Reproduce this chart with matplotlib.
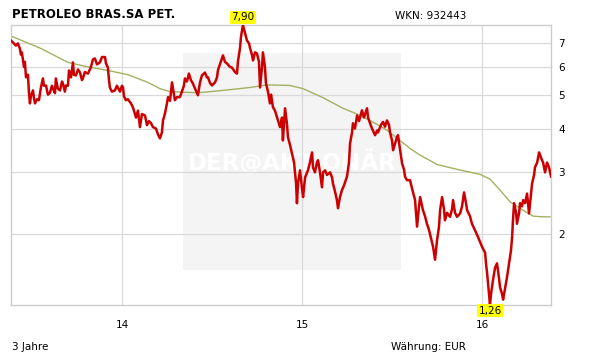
import matplotlib
matplotlib.use("Agg")
import matplotlib.pyplot as plt
from matplotlib.patches import Rectangle
from matplotlib.ticker import FixedLocator, NullLocator
import numpy as np

# time in decimal years (14 = 1 Jan 2014), price in EUR
price_t = [
    13.381, 13.394, 13.411, 13.422, 13.433, 13.439, 13.444, 13.456, 13.461, 13.467,
    13.478, 13.483, 13.489, 13.494, 13.506, 13.511, 13.517, 13.528, 13.539, 13.550,
    13.561, 13.567, 13.578, 13.589, 13.600, 13.611, 13.617, 13.628, 13.633, 13.644,
    13.656, 13.667, 13.672, 13.683, 13.689, 13.700, 13.706, 13.717, 13.728, 13.733,
    13.744, 13.756, 13.767, 13.778, 13.783, 13.794, 13.811, 13.822, 13.828, 13.839,
    13.850, 13.861, 13.878, 13.889, 13.906, 13.911, 13.922, 13.928, 13.933, 13.944,
    13.961, 13.972, 13.989, 14.000, 14.006, 14.011, 14.022, 14.033, 14.050, 14.061,
    14.078, 14.089, 14.100, 14.111, 14.128, 14.139, 14.150, 14.161, 14.172, 14.189,
    14.200, 14.211, 14.222, 14.228, 14.239, 14.250, 14.256, 14.267, 14.278, 14.289,
    14.294, 14.306, 14.322, 14.333, 14.344, 14.350, 14.361, 14.372, 14.383, 14.394,
    14.406, 14.417, 14.422, 14.433, 14.444, 14.461, 14.472, 14.478, 14.489, 14.500,
    14.517, 14.528, 14.533, 14.544, 14.561, 14.572, 14.583, 14.600, 14.611, 14.628,
    14.639, 14.644, 14.656, 14.661, 14.672, 14.683, 14.694, 14.706, 14.711, 14.722,
    14.728, 14.739, 14.750, 14.761, 14.767, 14.778, 14.783, 14.794, 14.800, 14.811,
    14.822, 14.828, 14.839, 14.850, 14.867, 14.878, 14.889, 14.894, 14.906, 14.917,
    14.922, 14.933, 14.944, 14.956, 14.961, 14.967, 14.972, 14.978, 14.989, 15.000,
    15.006, 15.017, 15.033, 15.044, 15.056, 15.061, 15.072, 15.083, 15.089, 15.100,
    15.111, 15.117, 15.128, 15.139, 15.156, 15.167, 15.172, 15.183, 15.194, 15.200,
    15.211, 15.222, 15.233, 15.250, 15.261, 15.267, 15.278, 15.283, 15.294, 15.306,
    15.317, 15.333, 15.344, 15.361, 15.367, 15.378, 15.389, 15.406, 15.417, 15.422,
    15.439, 15.450, 15.461, 15.472, 15.483, 15.489, 15.500, 15.506, 15.517, 15.528,
    15.533, 15.544, 15.556, 15.567, 15.572, 15.583, 15.600, 15.611, 15.628, 15.633,
    15.639, 15.650, 15.656, 15.667, 15.672, 15.683, 15.694, 15.706, 15.711, 15.722,
    15.728, 15.739, 15.750, 15.761, 15.767, 15.778, 15.789, 15.794, 15.806, 15.822,
    15.833, 15.839, 15.850, 15.861, 15.878, 15.889, 15.900, 15.911, 15.917, 15.933,
    15.944, 15.961, 15.978, 15.989, 16.000, 16.017, 16.022, 16.028, 16.033, 16.044,
    16.050, 16.061, 16.072, 16.083, 16.094, 16.100, 16.111, 16.117, 16.128, 16.139,
    16.150, 16.161, 16.167, 16.172, 16.178, 16.189, 16.194, 16.206, 16.211, 16.222,
    16.228, 16.239, 16.250, 16.261, 16.272, 16.278, 16.289, 16.294, 16.306, 16.317,
    16.328, 16.339, 16.350, 16.361, 16.372, 16.383,
]
price = [
    7.15, 7.05, 6.90, 7.00, 6.77, 6.50, 6.60, 6.00, 6.20, 5.60,
    5.70, 5.10, 4.72, 4.95, 5.14, 4.90, 4.72, 4.85, 4.82, 5.24,
    5.56, 5.30, 5.31, 5.00, 5.06, 5.30, 5.20, 5.05, 5.56, 5.20,
    5.14, 5.45, 5.38, 5.10, 5.31, 5.30, 5.86, 5.60, 6.18, 5.70,
    5.67, 5.90, 5.78, 5.50, 5.56, 5.80, 5.74, 5.90, 6.00, 6.30,
    6.34, 6.10, 6.18, 6.40, 6.40, 6.15, 5.97, 5.50, 5.24, 5.10,
    5.14, 5.30, 5.10, 5.30, 5.24, 4.95, 4.82, 4.85, 4.72, 4.60,
    4.30, 4.50, 4.04, 4.40, 4.36, 4.09, 4.20, 4.15, 4.04, 4.00,
    3.85, 3.75, 3.90, 4.22, 4.42, 4.72, 4.92, 4.80, 5.42, 5.00,
    4.82, 4.92, 4.92, 5.10, 5.30, 5.56, 5.45, 5.74, 5.50, 5.38,
    5.20, 5.05, 4.98, 5.40, 5.67, 5.78, 5.60, 5.60, 5.40, 5.31,
    5.42, 5.60, 5.86, 6.10, 6.47, 6.20, 6.14, 6.00, 5.97, 5.80,
    5.74, 6.20, 6.80, 7.30, 7.90, 7.50, 7.14, 7.00, 6.80, 6.50,
    6.26, 6.60, 6.55, 6.20, 5.24, 6.00, 6.60, 6.00, 5.38, 5.10,
    4.72, 5.00, 4.60, 4.50, 4.22, 4.04, 4.30, 3.70, 4.57, 4.10,
    3.78, 3.60, 3.40, 3.20, 3.00, 2.80, 2.45, 2.80, 3.04, 2.70,
    2.55, 2.90, 3.04, 3.20, 3.42, 3.10, 3.00, 3.20, 3.25, 3.00,
    2.72, 3.00, 3.04, 2.95, 3.00, 2.90, 2.79, 2.65, 2.50, 2.37,
    2.55, 2.67, 2.75, 2.92, 3.20, 3.63, 3.90, 4.14, 4.00, 4.36,
    4.20, 4.51, 4.30, 4.57, 4.30, 4.14, 4.00, 3.83, 3.95, 3.90,
    4.10, 4.18, 4.05, 4.22, 4.10, 3.90, 3.70, 3.47, 3.63, 3.78,
    3.83, 3.50, 3.18, 3.05, 2.92, 2.85, 2.85, 2.70, 2.50, 2.30,
    2.10, 2.40, 2.55, 2.40, 2.34, 2.25, 2.14, 2.05, 2.00, 1.90,
    1.84, 1.69, 1.92, 2.10, 2.34, 2.55, 2.35, 2.19, 2.30, 2.24,
    2.35, 2.50, 2.30, 2.24, 2.29, 2.40, 2.63, 2.45, 2.34, 2.25,
    2.14, 2.05, 1.96, 1.90, 1.84, 1.77, 1.65, 1.55, 1.45, 1.26,
    1.35, 1.48, 1.60, 1.65, 1.50, 1.41, 1.35, 1.30, 1.40, 1.51,
    1.65, 1.80, 1.96, 2.20, 2.45, 2.30, 2.14, 2.30, 2.45, 2.40,
    2.50, 2.45, 2.61, 2.29, 2.60, 2.79, 2.95, 3.10, 3.20, 3.42,
    3.30, 3.20, 3.00, 3.20, 3.10, 2.92,
]

# moving average (green line)
ma_t = [13.378, 13.550, 13.700, 13.811, 13.922, 14.033, 14.144, 14.211, 14.267,
        14.422, 14.561, 14.711, 14.806, 14.933, 15.006, 15.117, 15.228, 15.306,
        15.378, 15.472, 15.544, 15.600, 15.656, 15.750, 15.861, 15.989, 16.044,
        16.100, 16.156, 16.228, 16.283, 16.339, 16.378]
ma = [7.37, 6.77, 6.18, 6.00, 5.86, 5.70, 5.42, 5.20, 5.10,
      5.06, 5.14, 5.24, 5.33, 5.31, 5.20, 4.90, 4.57, 4.40,
      4.22, 3.96, 3.70, 3.51, 3.36, 3.16, 3.06, 2.96, 2.87,
      2.67, 2.47, 2.34, 2.25, 2.24, 2.24]

x_ticks = [14, 15, 16]
x_labels = ["14", "15", "16"]
y_ticks = [2, 3, 4, 5, 6, 7]

fig = plt.figure(figsize=(6.11, 3.64), dpi=100)
ax = fig.add_axes([10.5 / 611, 59 / 364, 540.5 / 611, 280 / 364])

ax.set_yscale("log")
ax.set_xlim(13.381, 16.383)
ax.set_ylim(1.255, 7.9)

# watermark
ax.add_patch(Rectangle((0.319, 0.125), 0.4035, 0.775, transform=ax.transAxes,
                       facecolor="#f4f4f4", edgecolor="none", zorder=0.1))
ax.text(0.521, 0.51, "DER@AKTIONÄR", transform=ax.transAxes, ha="center", va="center",
        fontsize=16.5, fontweight="bold", color="white", zorder=0.2)

ax.plot(ma_t, ma, color="#a4b060", lw=1.0, zorder=2)
ax.plot(price_t, price, color="#cc0000", lw=1.8, zorder=3)

ax.set_axisbelow(True)
ax.yaxis.tick_right()
ax.yaxis.set_major_locator(FixedLocator(y_ticks))
ax.yaxis.set_minor_locator(NullLocator())
ax.set_yticklabels([str(v) for v in y_ticks])
ax.set_xticks(x_ticks)
ax.set_xticklabels(x_labels)
ax.tick_params(axis="both", length=0, labelsize=7.5, colors="black")
ax.tick_params(axis="x", pad=11)
ax.tick_params(axis="y", pad=5)
ax.grid(True, color="#d9d9d9", lw=0.9)
for s in ax.spines.values():
    s.set_color("#cccccc")
    s.set_linewidth(1.0)

# max / min labels
i_max = int(np.argmax(price))
i_min = int(np.argmin(price))
box = dict(boxstyle="square,pad=0.15", facecolor="#ffff00", edgecolor="none")
ax.annotate(f"{price[i_max]:.2f}".replace(".", ","), (price_t[i_max], price[i_max]),
            xytext=(0, 2), textcoords="offset points", ha="center", va="bottom",
            fontsize=7.5, bbox=box, annotation_clip=False)
ax.annotate(f"{price[i_min]:.2f}".replace(".", ","), (price_t[i_min], price[i_min]),
            xytext=(0, -1), textcoords="offset points", ha="center", va="top",
            fontsize=7.5, bbox=box, annotation_clip=False)

fig.text(12 / 611, 1 - 15 / 364, "PETROLEO BRAS.SA PET.", fontsize=8.5,
         fontweight="bold", va="center", ha="left")
fig.text(395 / 611, 1 - 16 / 364, "WKN: 932443", fontsize=7.5, va="center", ha="left")
fig.text(12 / 611, 1 - 347 / 364, "3 Jahre", fontsize=7.5, va="center", ha="left")
fig.text(391 / 611, 1 - 347 / 364, "Währung: EUR", fontsize=7.5, va="center", ha="left")

fig.savefig("out.png", dpi=100)
